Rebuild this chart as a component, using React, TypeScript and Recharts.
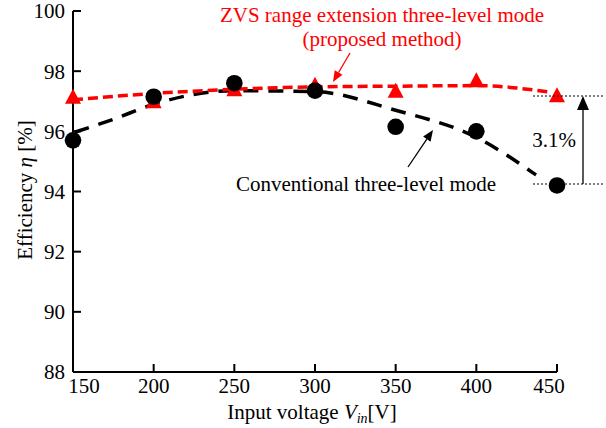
import React from 'react';
import { ComposedChart, Line, Scatter, XAxis, YAxis } from 'recharts';

// measured points
const inputVoltage = [150, 200, 250, 300, 350, 400, 450];
const proposedEff = [97.15, 97.0, 97.4, 97.55, 97.35, 97.7, 97.2];
const conventionalEff = [95.7, 97.15, 97.6, 97.35, 96.15, 96.0, 94.2];

// dashed trend curves
const proposedTrendX = [150, 200, 250, 300, 350, 400, 446];
const proposedTrendY = [97.05, 97.26, 97.4, 97.48, 97.5, 97.52, 97.3];
const conventionalTrendX = [151, 175, 200, 250, 300, 350, 400, 437];
const conventionalTrendY = [95.97, 96.4, 96.9, 97.35, 97.32, 96.7, 95.8, 94.55];

const xTicks = [150, 200, 250, 300, 350, 400, 450];
const yTicks = [88, 90, 92, 94, 96, 98, 100];

const FONT = '"Liberation Serif", "Times New Roman", serif';

const proposedPts = inputVoltage.map((x, i) => ({ x, y: proposedEff[i] }));
const conventionalPts = inputVoltage.map((x, i) => ({ x, y: conventionalEff[i] }));
const proposedTrend = proposedTrendX.map((x, i) => ({ x, y: proposedTrendY[i] }));
const conventionalTrend = conventionalTrendX.map((x, i) => ({ x, y: conventionalTrendY[i] }));

const XTick = (props: any) => {
  const { x, y, payload } = props;
  const v = payload.value;
  const off = v === 150 ? 11 : v === 450 ? -8 : 0;
  return (
    <g>
      <line x1={x} y1={y} x2={x} y2={y - 8} stroke="#000" strokeWidth={2} />
      <text x={x + off} y={y + 21} textAnchor="middle" fontFamily={FONT} fontSize={21} fill="#000">
        {v}
      </text>
    </g>
  );
};

const YTick = (props: any) => {
  const { x, y, payload } = props;
  return (
    <g>
      <line x1={x} y1={y} x2={x + 8} y2={y} stroke="#000" strokeWidth={2} />
      <text x={x - 8} y={y} dy="0.35em" textAnchor="end" fontFamily={FONT} fontSize={21} fill="#000">
        {payload.value}
      </text>
    </g>
  );
};

const Triangle = (props: any) => {
  const { cx, cy } = props;
  if (cx == null || cy == null) return null;
  return <polygon points={`${cx},${cy - 8} ${cx + 8},${cy + 7} ${cx - 8},${cy + 7}`} fill="#ff0000" />;
};

const Dot = (props: any) => {
  const { cx, cy } = props;
  if (cx == null || cy == null) return null;
  return <circle cx={cx} cy={cy} r={8.3} fill="#000" />;
};

const Arrow = ({ x1, y1, x2, y2, color, w = 1.3, head = 11, half = 4.5 }: any) => {
  const dx = x2 - x1;
  const dy = y2 - y1;
  const len = Math.sqrt(dx * dx + dy * dy);
  const ux = dx / len;
  const uy = dy / len;
  const bx = x2 - ux * head;
  const by = y2 - uy * head;
  const px = -uy * half;
  const py = ux * half;
  return (
    <g>
      <line x1={x1} y1={y1} x2={bx} y2={by} stroke={color} strokeWidth={w} />
      <polygon points={`${x2},${y2} ${bx + px},${by + py} ${bx - px},${by - py}`} fill={color} />
    </g>
  );
};

export default function App() {
  return (
    <div style={{ position: 'absolute', left: 0, top: 0, width: 606, height: 428, background: '#fff' }}>
      <ComposedChart width={606} height={428} margin={{ top: 11, right: 49, bottom: 26, left: 0 }}>
        <XAxis
          type="number"
          dataKey="x"
          domain={[150, 450]}
          ticks={xTicks}
          height={30}
          tickSize={0}
          tickMargin={0}
          tickLine={false}
          axisLine={{ stroke: '#000', strokeWidth: 2 }}
          tick={<XTick />}
          interval={0}
        />
        <YAxis
          type="number"
          dataKey="y"
          domain={[88, 100]}
          ticks={yTicks}
          width={73}
          tickSize={0}
          tickMargin={0}
          tickLine={false}
          axisLine={{ stroke: '#000', strokeWidth: 2 }}
          tick={<YTick />}
          interval={0}
        />
        <Line
          data={conventionalTrend}
          dataKey="y"
          type="monotone"
          stroke="#000"
          strokeWidth={3.5}
          strokeDasharray="15 10"
          dot={false}
          activeDot={false}
          isAnimationActive={false}
        />
        <Line
          data={proposedTrend}
          dataKey="y"
          type="monotone"
          stroke="#ff0000"
          strokeWidth={3.5}
          strokeDasharray="10 5"
          dot={false}
          activeDot={false}
          isAnimationActive={false}
        />
        <Scatter data={proposedPts} dataKey="y" shape={<Triangle />} isAnimationActive={false} />
        <Scatter data={conventionalPts} dataKey="y" shape={<Dot />} isAnimationActive={false} />
      </ComposedChart>
      <svg width={606} height={428} style={{ position: 'absolute', left: 0, top: 0, pointerEvents: 'none' }}>
        <g fontFamily={FONT} fontSize={21}>
          <text x={382} y={22} textAnchor="middle" fill="#ff0000">ZVS range extension three-level mode</text>
          <text x={382} y={46} textAnchor="middle" fill="#ff0000">(proposed method)</text>
          <text x={236} y={191} fill="#000">Conventional three-level mode</text>
          <text x={554} y={147} textAnchor="middle" fill="#000">3.1%</text>
          <text x={312} y={419} textAnchor="middle" fill="#000">
            Input voltage <tspan fontStyle="italic">V</tspan>
            <tspan fontStyle="italic" fontSize={14} dy={4}>in</tspan>
            <tspan dy={-4}>[V]</tspan>
          </text>
          <text x={0} y={0} textAnchor="middle" fill="#000" transform="translate(32 190) rotate(-90)">
            Efficiency <tspan fontStyle="italic">η</tspan> [%]
          </text>
        </g>
        <Arrow x1={350} y1={53} x2={333} y2={82} color="#ff0000" />
        <Arrow x1={408} y1={167} x2={433} y2={130} color="#000" />
        <Arrow x1={583} y1={184} x2={583} y2={96} color="#000" head={14} half={6} />
        <line x1={533} y1={96} x2={603} y2={96} stroke="#000" strokeWidth={1} strokeDasharray="2 2" />
        <line x1={533} y1={184} x2={603} y2={184} stroke="#000" strokeWidth={1} strokeDasharray="2 2" />
      </svg>
    </div>
  );
}
